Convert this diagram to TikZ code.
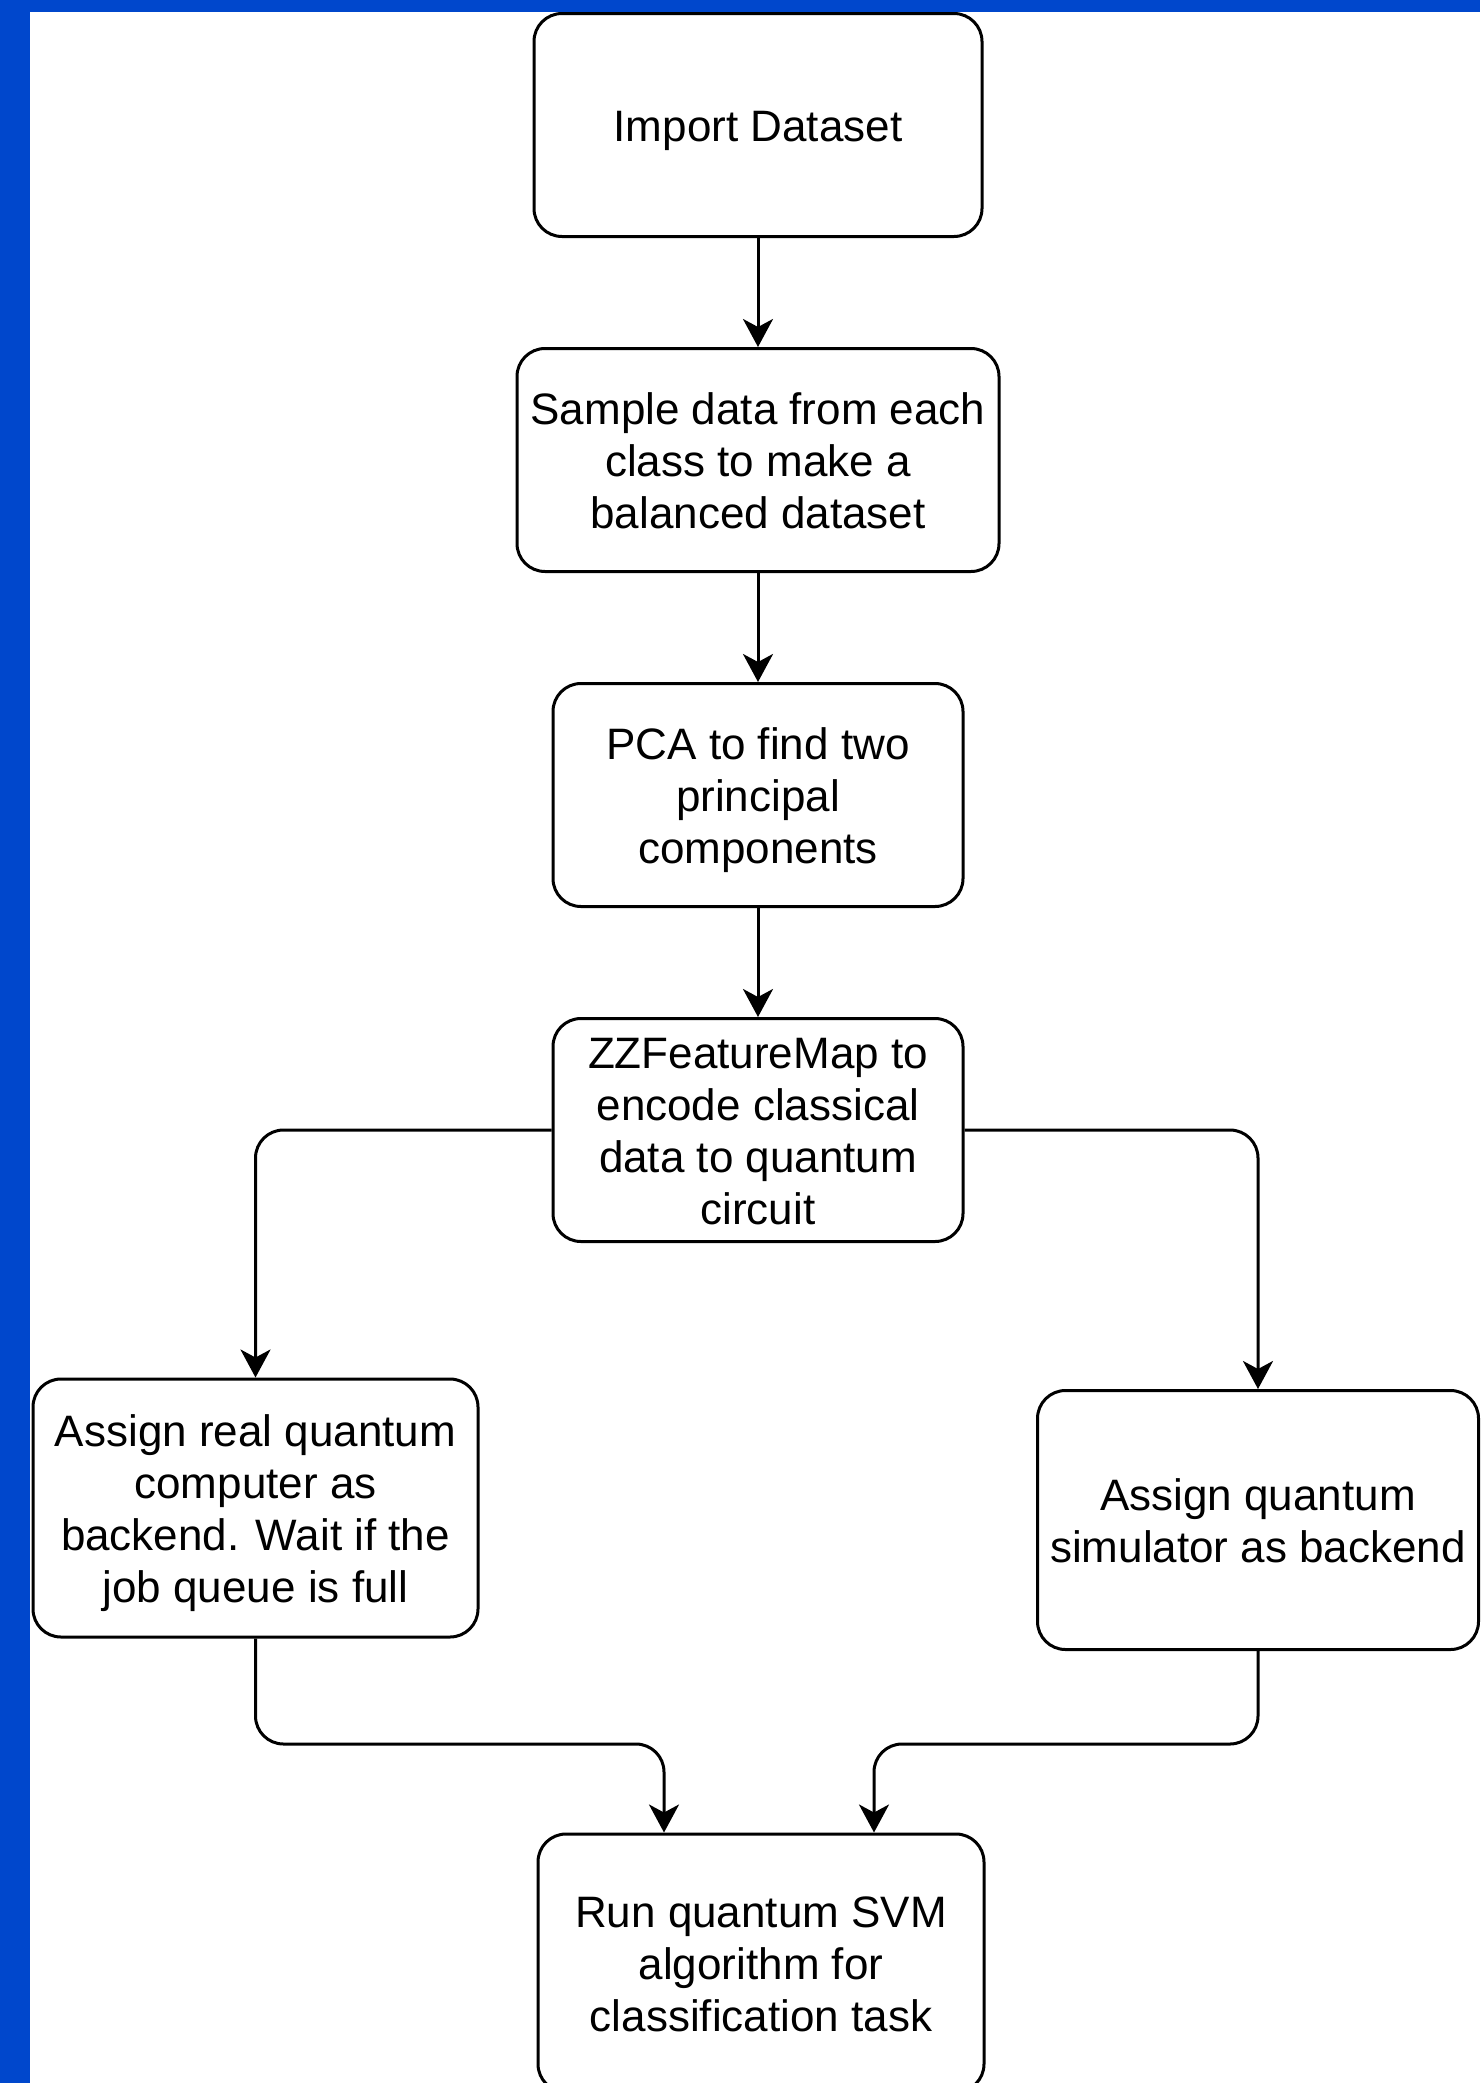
\documentclass[tikz,border=0pt]{standalone}
\usepackage{fontspec}
\setmainfont{Liberation Sans}
\usetikzlibrary{positioning,arrows.meta}
\definecolor{frameblue}{HTML}{0047CC}
\newcommand\topstrut{\rule{0pt}{21.1pt}}
\newcommand\botstrut{\rule[-5pt]{0pt}{5pt}}

\begin{document}
\begin{tikzpicture}[x=0.5pt,y=-0.5pt,
  box/.style={draw, line width=1.5pt, rounded corners=14pt, align=center,
    inner sep=2pt, font=\fontsize{22pt}{26pt}\selectfont},
  link/.style={line width=1.5pt, rounded corners=14pt,
    -{Stealth[length=14pt,width=15pt,inset=4pt]}}]
\useasboundingbox (0,0) rectangle (1480,2083);
\clip (0,0) rectangle (1480,2083);
\fill[white] (0,0) rectangle (1480,2083);
\fill[frameblue] (0,0) rectangle (30,2083);
\fill[frameblue] (0,0) rectangle (1480,12);

\node[box, minimum width=224pt, minimum height=111.5pt] (imp) at (758,125)
  {\rule[-5pt]{0pt}{26pt}Import Dataset};
\node[box, minimum width=241pt, minimum height=111.5pt, below=54.5pt of imp] (smp)
  {\topstrut Sample data from each\\class to make a\\balanced dataset\botstrut};
\node[box, minimum width=205pt, minimum height=111.5pt, below=54.5pt of smp] (pca)
  {\topstrut PCA to find two\\principal\\components\botstrut};
\node[box, minimum width=205pt, minimum height=111.5pt, below=54.5pt of pca] (zz)
  {\topstrut ZZFeatureMap to\\encode classical\\data to quantum\\circuit\botstrut};

\node[box, minimum width=222.5pt, minimum height=129pt] (real) at (255.5,1508)
  {\topstrut Assign real quantum\\computer as\\backend. Wait if the\\job queue is full\botstrut};
\node[box, minimum width=220.5pt, minimum height=129.5pt] (sim) at (1258,1520)
  {\topstrut Assign quantum\\simulator as backend\botstrut};
\node[box, minimum width=223pt, minimum height=129pt] (run) at (761,1963)
  {\topstrut Run quantum SVM\\algorithm for\\classification task\botstrut};

\coordinate (jl) at (664,1744);
\coordinate (jr) at (874,1744);

\draw[link] (imp) -- (smp);
\draw[link] (smp) -- (pca);
\draw[link] (pca) -- (zz);
\draw[link] (zz.west) -| (real.north);
\draw[link] (zz.east) -| (sim.north);
\draw[link] (real.south) |- (jl) -- (jl |- run.north);
\draw[link] (sim.south) |- (jr) -- (jr |- run.north);

\end{tikzpicture}
\end{document}
